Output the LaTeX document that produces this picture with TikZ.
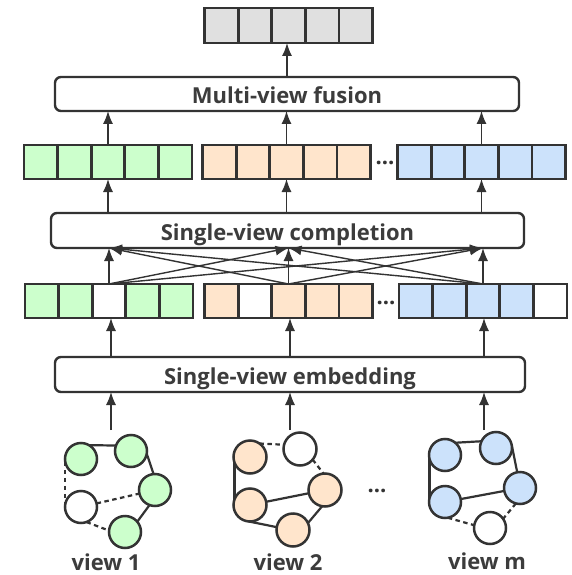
\documentclass[tikz,border=0pt]{standalone}
\usepackage{fontspec}
\setmainfont{Open Sans}
\usetikzlibrary{arrows.meta,backgrounds}
\definecolor{ln}{HTML}{333333}
\definecolor{txt}{HTML}{3C3C3C}
\definecolor{cg}{HTML}{CCFFCC}
\definecolor{co}{HTML}{FFE5CC}
\definecolor{cb}{HTML}{CCE2FB}
\definecolor{cy}{HTML}{E0E0E0}
\newcommand\cellrow[5]{%
  \foreach \c [count=\i] in {#5}{%
    \node[cell,fill=\c,minimum height=#4pt] (#1\i) at ({#2+(\i-3)*33.6},#3) {};}}
\begin{document}
\begin{tikzpicture}[x=1pt,y=-1pt,
  cell/.style={draw=ln,line width=2.8pt,minimum width=33.6pt,inner sep=0pt,outer sep=0pt},
  stage/.style={draw=ln,line width=2.4pt,rounded corners=6pt,inner sep=0pt,outer sep=0pt,
    text=txt,font=\bfseries\fontsize{22}{22}\selectfont,text height=20pt,text depth=0pt},
  arr/.style={draw=ln,line width=1.4pt,-{Latex[length=13pt,width=10pt]}},
  vnode/.style={circle,draw=ln,line width=2.5pt,minimum size=32pt,inner sep=0pt,outer sep=0pt},
  gedge/.style={draw=ln,line width=2.2pt},
  gdash/.style={gedge,dash pattern=on 4.5pt off 3.5pt},
  lbl/.style={text=txt,font=\bfseries\fontsize{22}{22}\selectfont,inner sep=0pt,text height=16pt,text depth=0pt},
  dotsty/.style={text=ln,font=\bfseries\fontsize{22}{22}\selectfont,inner sep=0pt}]
\useasboundingbox (0,0) rectangle (571,575);
\begin{scope}[on background layer]
  \fill[white] (0,0) rectangle (571,575);
\end{scope}

% arrays
\cellrow{top}{288.5}{25.5}{35}{cy,cy,cy,cy,cy}
\cellrow{ag}{108}{162}{34}{cg,cg,cg,cg,cg}
\cellrow{ao}{286.5}{162}{34}{co,co,co,co,co}
\cellrow{ab}{481.5}{162}{34}{cb,cb,cb,cb,cb}
\cellrow{bg}{109}{301}{34}{cg,cg,white,cg,cg}
\cellrow{bo}{288.5}{301}{34}{co,white,co,co,co}
\cellrow{bb}{483}{301}{34}{cb,cb,cb,cb,white}
\node[dotsty] (d1) at (385,163) {...};
\node[dotsty] (d2) at (386,303) {...};

% stage boxes
\node[stage,minimum width=464pt,minimum height=34pt] (fus) at (287,94) {Multi-view fusion};
\node[stage,minimum width=473pt,minimum height=35pt] (cmp) at (287.5,230.5) {Single-view completion};
\node[stage,minimum width=470pt,minimum height=35pt] (emb) at (290,374.5) {Single-view embedding};

% arrows
\draw[arr] (fus.north) -- (fus.north |- top3.south);
\foreach \a in {ag,ao,ab} {
  \draw[arr] (\a3.north) -- (\a3.north |- fus.south);
  \draw[arr] (\a3.south |- cmp.north) -- (\a3.south);
}
\foreach \s in {bg,bo,bb} \foreach \t in {bg,bo,bb} \draw[arr] (\s3.north) -- (\t3.north |- cmp.south);
\coordinate (g1) at (111,430);
\coordinate (g2) at (290,430);
\coordinate (g3) at (484,430);
\foreach \g/\a in {g1/bg,g2/bo,g3/bb} {
  \draw[arr] (\g |- emb.north) -- (\g |- \a3.south);
  \draw[arr] (\g) -- (\g |- emb.south);
}

% view 1
\node[vnode,fill=cg] (p1tl) at (81,459) {};
\node[vnode,fill=cg] (p1tr) at (131,451) {};
\node[vnode,fill=cg] (p1r) at (155,490) {};
\node[vnode,fill=white] (p1w) at (81,507) {};
\node[vnode,fill=cg] (p1b) at (125,532) {};
% view 2
\node[vnode,fill=co,minimum size=33pt] (p2tl) at (250,457) {};
\node[vnode,fill=white,minimum size=33pt] (p2tr) at (300,449) {};
\node[vnode,fill=co,minimum size=33pt] (p2r) at (325,490) {};
\node[vnode,fill=co,minimum size=33pt] (p2l) at (250,505) {};
\node[vnode,fill=co,minimum size=33pt] (p2b) at (293,530) {};
% view m
\node[vnode,fill=cb] (p3tl) at (445,455) {};
\node[vnode,fill=cb] (p3tr) at (496,448) {};
\node[vnode,fill=cb] (p3r) at (520,488) {};
\node[vnode,fill=cb] (p3l) at (445,502) {};
\node[vnode,fill=white] (p3w) at (490,528) {};
\node[dotsty] (d3) at (377,491) {...};

\begin{scope}[on background layer]
  \draw[gedge] (p1tl.60) -- (p1tr.160);
  \draw[gedge] (p1tr.350) -- (p1r.95);
  \draw[gedge] (p1r.250) -- (p1b.40);
  \draw[gdash] (p1tl.190) -- (p1w.170);
  \draw[gdash] (p1w) -- (p1r);
  \draw[gdash] (p1w.290) -- (p1b.175);
  \draw[gdash] (p2tl.55) -- (p2tr.165);
  \draw[gdash] (p2tr.320) -- (p2r.95);
  \draw[gedge] (p2tl.160) -- (p2l.200);
  \draw[gedge] (p2l) -- (p2r);
  \draw[gedge] (p2l.265) -- (p2b.170);
  \draw[gedge] (p2r.260) -- (p2b.25);
  \draw[gedge] (p3tl.50) -- (p3tr.155);
  \draw[gedge] (p3tr.10) -- (p3r.100);
  \draw[gedge] (p3tl.165) -- (p3l.195);
  \draw[gedge] (p3l) -- (p3r);
  \draw[gdash] (p3l.280) -- (p3w.170);
  \draw[gdash] (p3r.255) -- (p3w.35);
\end{scope}

% labels
\node[lbl] (l1) at (106,562) {view 1};
\node[lbl] (l2) at (288,562) {view 2};
\node[lbl] (l3) at (487,561) {view m};
\end{tikzpicture}
\end{document}
